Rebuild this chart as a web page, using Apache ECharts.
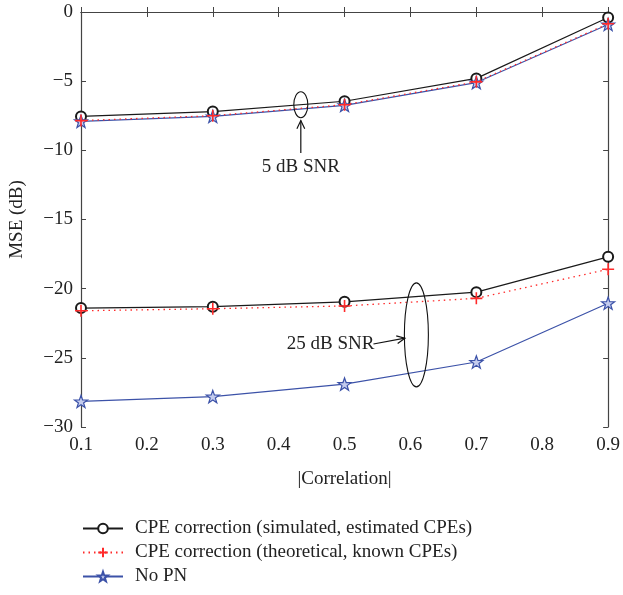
<!DOCTYPE html>
<html>
<head>
<meta charset="utf-8">
<script src="https://cdn.jsdelivr.net/npm/echarts@6/dist/echarts.min.js"></script>
<style>
html,body{margin:0;padding:0;background:#fff;}
#chart{width:623px;height:595px;}
</style>
</head>
<body>
<div id="chart"></div>
<script>
var correlation = [0.1, 0.3, 0.5, 0.7, 0.9];
var simulated5 = [-7.55, -7.2, -6.45, -4.8, -0.4];
var theoretical5 = [-7.85, -7.5, -6.7, -5.05, -0.85];
var noPN5 = [-7.9, -7.55, -6.75, -5.1, -0.9];
var simulated25 = [-21.4, -21.3, -20.95, -20.25, -17.7];
var theoretical25 = [-21.6, -21.45, -21.25, -20.7, -18.6];
var noPN25 = [-28.15, -27.8, -26.9, -25.3, -21.05];
var seriesNames = ['CPE correction (simulated, estimated CPEs)', 'CPE correction (theoretical, known CPEs)', 'No PN'];
var xTitle = '|Correlation|';
var yTitle = 'MSE (dB)';
var ann5 = {text: '5 dB SNR', ellipse: [0.4336, -6.7], arrowFrom: [0.4336, -10.2], arrowTo: [0.4336, -7.85], textAt: [0.4336, -11.2]};
var ann25 = {text: '25 dB SNR', ellipse: [0.609, -23.34], arrowFrom: [0.5438, -24.0], arrowTo: [0.5916, -23.58], textAt: [0.5438, -24.0]};

var FONT = 'Liberation Serif';
var BLACK = '#1a1a1a', RED = '#ff2a2a', BLUE = '#3c52a8', AXIS = '#444';
var STAR = 'path://M0,-10 L2.35,-3.24 L9.51,-3.09 L3.8,1.24 L5.88,8.09 L0,4 L-5.88,8.09 L-3.8,1.24 L-9.51,-3.09 L-2.35,-3.24 Z';
var PLUS = 'path://M0,5 L10,5 M5,0 L5,10';

function pairs(vals){ return correlation.map(function(c,i){ return [c, vals[i]]; }); }

function simSeries(vals){
  return {name: seriesNames[0], type:'line', data: pairs(vals), z: 2,
    symbol:'emptyCircle', symbolSize: 10,
    lineStyle:{color:BLACK, width:1.2},
    itemStyle:{color:BLACK, borderColor:BLACK, borderWidth:1.2}};
}
function theoSeries(vals){
  return {name: seriesNames[1], type:'line', data: pairs(vals), z: 4,
    symbol: PLUS, symbolSize: 12,
    lineStyle:{color:RED, width:1.3, type:[1.5,4]},
    itemStyle:{color:RED, borderColor:RED, borderWidth:1.6}};
}
function noPNSeries(vals){
  return {name: seriesNames[2], type:'line', data: pairs(vals), z: 3,
    symbol: STAR, symbolSize: 13, symbolKeepAspect: true,
    lineStyle:{color:BLUE, width:1.2},
    itemStyle:{color:'#c4ccee', borderColor:BLUE, borderWidth:1.2}};
}

var labelStyle = {fontFamily: FONT, fontSize: 19, color: '#222'};
var chart = echarts.init(document.getElementById('chart'), null, {renderer:'canvas'});
var option = {
  animation: false,
  backgroundColor: '#fff',
  textStyle: {fontFamily: FONT},
  grid: {left: 81, right: 12, top: 12, bottom: 168, containLabel: false},
  legend: {
    data: seriesNames, orient: 'vertical', left: 77, top: 514,
    itemWidth: 40, itemHeight: 12, itemGap: 5,
    textStyle: {fontFamily: FONT, fontSize: 19, color: '#222', padding: [0, 0, 0, 7]}
  },
  xAxis: [
    {type:'value', min:0.1, max:0.9, interval:0.1, position:'bottom',
     name: xTitle, nameLocation:'middle', nameGap: 43,
     nameTextStyle: {fontFamily: FONT, fontSize: 19, color:'#222'},
     axisLine:{lineStyle:{color:AXIS, width:1.2}},
     axisTick:{inside:true, length:5, lineStyle:{color:AXIS}},
     axisLabel: Object.assign({margin: 9, formatter: function(v){return v.toFixed(1);}}, labelStyle),
     splitLine:{show:false}},
    {type:'value', min:0.1, max:0.9, interval:0.1, position:'top',
     axisLine:{lineStyle:{color:AXIS, width:1.2}},
     axisTick:{inside:true, length:5, lineStyle:{color:AXIS}},
     axisLabel:{show:false}, splitLine:{show:false}}
  ],
  yAxis: [
    {type:'value', min:-30, max:0, interval:5, position:'left',
     name: yTitle, nameLocation:'middle', nameGap: 54, nameRotate: 90,
     nameTextStyle: {fontFamily: FONT, fontSize: 19, color:'#222'},
     axisLine:{show:true, lineStyle:{color:AXIS, width:1.2}},
     axisTick:{show:true, inside:true, length:5, lineStyle:{color:AXIS}},
     axisLabel: Object.assign({margin: 8, formatter: function(v){return v < 0 ? '\u2212' + (-v) : String(v);}}, labelStyle),
     splitLine:{show:false}},
    {type:'value', min:-30, max:0, interval:5, position:'right',
     axisLine:{show:true, lineStyle:{color:AXIS, width:1.2}},
     axisTick:{show:true, inside:true, length:5, lineStyle:{color:AXIS}},
     axisLabel:{show:false}, splitLine:{show:false}}
  ],
  series: [
    simSeries(simulated5), theoSeries(theoretical5), noPNSeries(noPN5),
    simSeries(simulated25), theoSeries(theoretical25), noPNSeries(noPN25)
  ]
};
chart.setOption(option);

function px(p){ return chart.convertToPixel({xAxisIndex:0, yAxisIndex:0}, p); }
function arrow(from, to){
  var a = px(from), b = px(to);
  var ang = Math.atan2(b[1]-a[1], b[0]-a[0]);
  var L = 9, s = 0.45;
  var h1 = [b[0] - L*Math.cos(ang - s), b[1] - L*Math.sin(ang - s)];
  var h2 = [b[0] - L*Math.cos(ang + s), b[1] - L*Math.sin(ang + s)];
  return [
    {type:'polyline', shape:{points:[a, b]}, style:{stroke:'#111', lineWidth:1.2, fill:null}, z:10},
    {type:'polyline', shape:{points:[h1, b, h2]}, style:{stroke:'#111', lineWidth:1.2, fill:null}, z:10}
  ];
}
function ellipse(c, rx, ry){
  var p = px(c);
  return {type:'ellipse', shape:{cx:p[0], cy:p[1], rx:rx, ry:ry}, style:{stroke:'#111', lineWidth:1.1, fill:null}, z:10};
}
var t5 = px(ann5.textAt), t25 = px(ann25.textAt);
var graphics = [
  ellipse(ann5.ellipse, 7, 13),
  ellipse(ann25.ellipse, 12, 52)
].concat(arrow(ann5.arrowFrom, ann5.arrowTo), arrow(ann25.arrowFrom, ann25.arrowTo), [
  {type:'text', x:t5[0], y:t5[1], style:{text:ann5.text, font:'19px "Liberation Serif"', fill:'#222', textAlign:'center', textVerticalAlign:'middle'}, z:10},
  {type:'text', x:t25[0] + 1, y:t25[1], style:{text:ann25.text, font:'19px "Liberation Serif"', fill:'#222', textAlign:'right', textVerticalAlign:'middle'}, z:10}
]);
chart.setOption({graphic: graphics});
</script>
</body>
</html>
